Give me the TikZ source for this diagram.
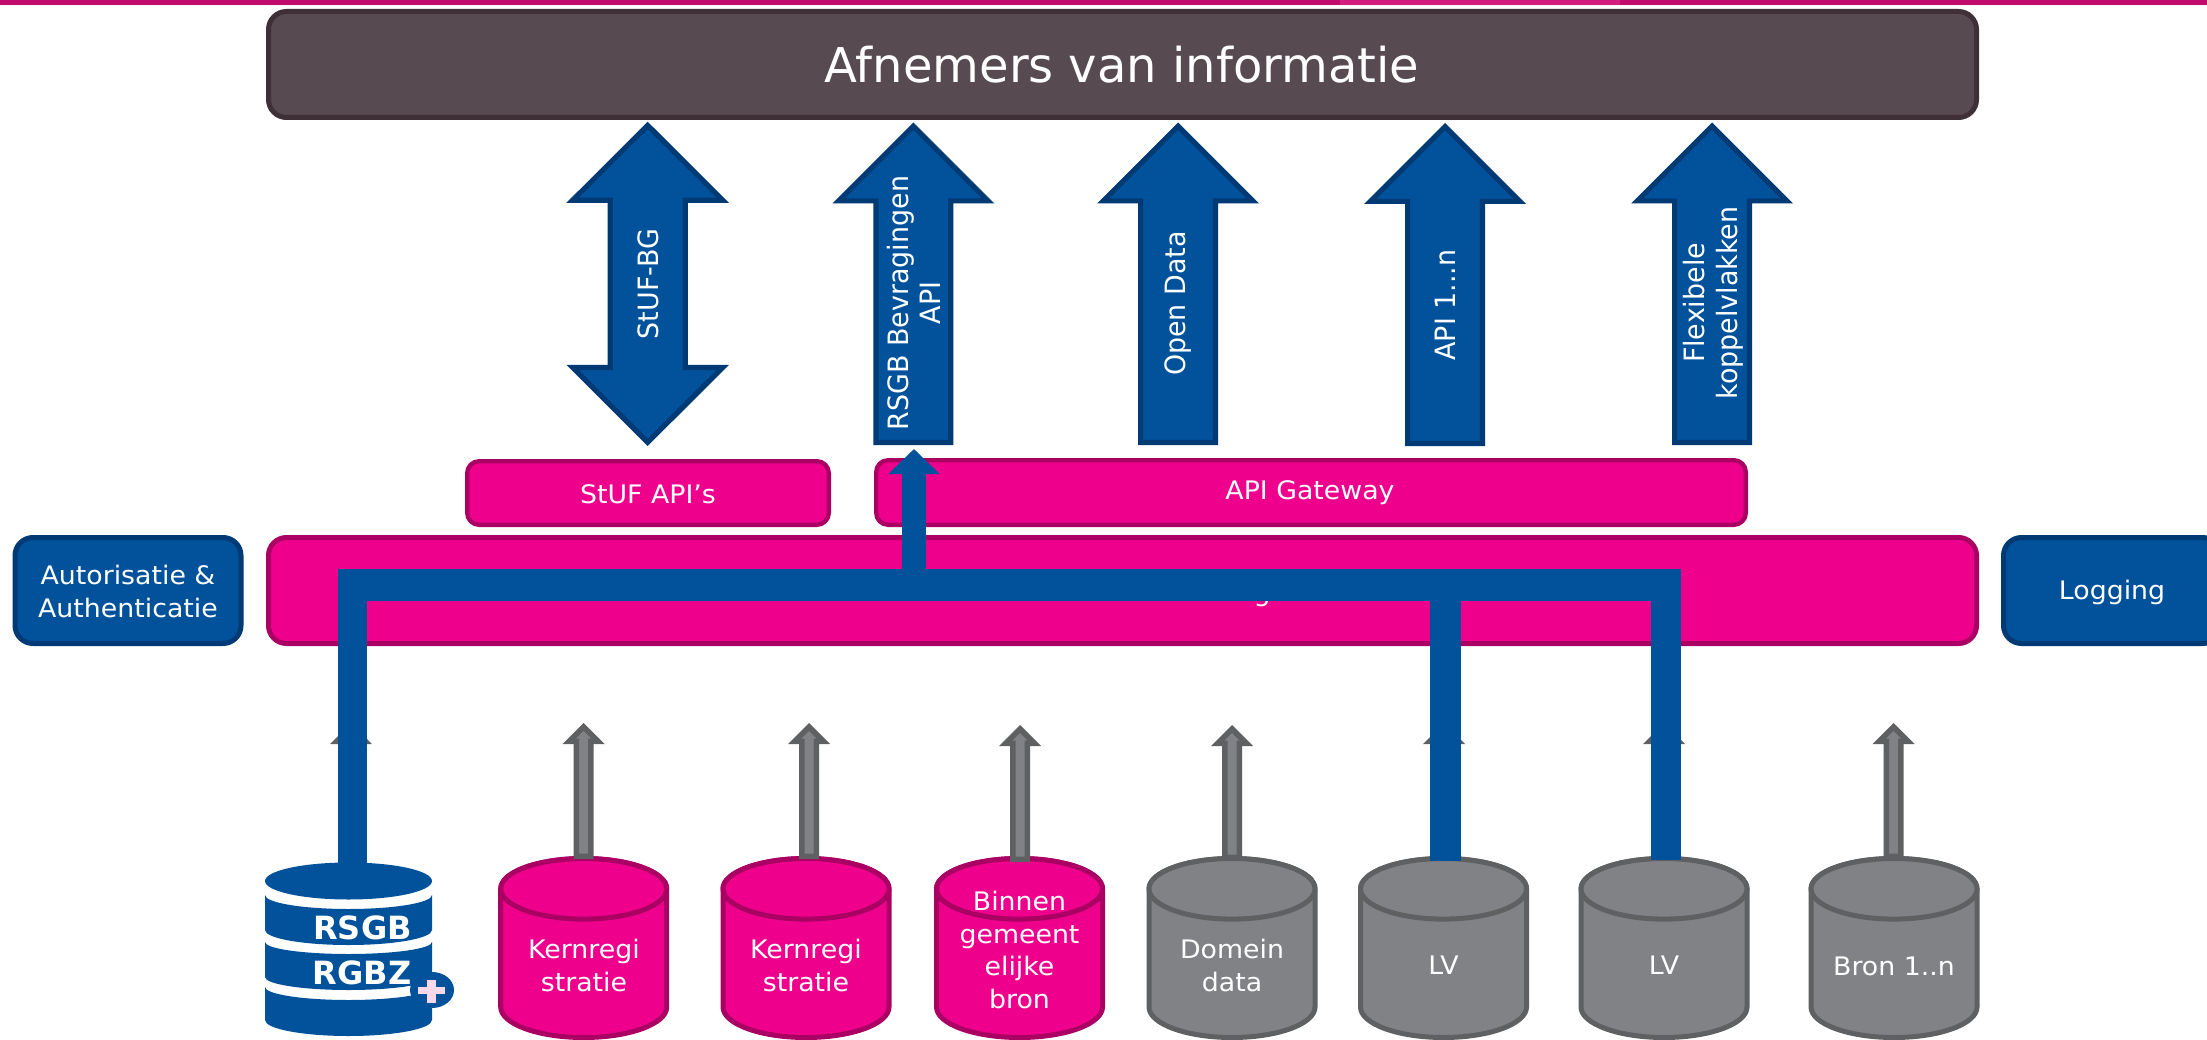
\documentclass[tikz,border=0pt]{standalone}
\usepackage{fontspec}
\setmainfont{DejaVu Sans}
\newfontfamily\hfam[FakeStretch=1.05]{DejaVu Sans}
\newfontfamily\rfam[FakeStretch=0.96]{DejaVu Sans}
\usetikzlibrary{calc,arrows.meta}
\definecolor{bluefill}{HTML}{01519B}
\definecolor{blueedge}{HTML}{003A74}
\definecolor{pinkfill}{HTML}{EE008D}
\definecolor{pinkedge}{HTML}{AB0063}
\definecolor{darkfill}{HTML}{574A50}
\definecolor{darkedge}{HTML}{3E3036}
\definecolor{grayfill}{HTML}{808285}
\definecolor{grayedge}{HTML}{5F6062}
\definecolor{stripa}{HTML}{BF0A6E}
\definecolor{stripb}{HTML}{D41C80}
\definecolor{plusc}{HTML}{F8D8E8}
\tikzset{
  x=1pt,y=-1pt,
  txt/.style={text=white,inner sep=0pt,align=center,font=\hfam\fontsize{25.5}{32.5}\selectfont},
  rtxt/.style={text=white,inner sep=0pt,align=center,rotate=90,font=\rfam\fontsize{28}{32.5}\selectfont},
  rbox/.style={rounded corners=#1,inner sep=0pt,outer sep=0pt,line join=round},
  dark/.style={draw=darkedge,fill=darkfill,line width=5pt},
  pinkb/.style={draw=pinkedge,fill=pinkfill,line width=5pt},
  pinks/.style={draw=pinkedge,fill=pinkfill,line width=4.4pt},
  blueb/.style={draw=blueedge,fill=bluefill,line width=5pt},
  blockb/.style={draw=blueedge,fill=bluefill,line width=5.2pt,miter limit=10},
  blockg/.style={draw=grayedge,fill=grayfill,line width=5.5pt,miter limit=10},
  cylp/.style={draw=pinkedge,fill=pinkfill,line width=5pt,line join=round},
  cylg/.style={draw=grayedge,fill=grayfill,line width=5pt,line join=round},
  busline/.style={draw=bluefill,line width=#1pt,line cap=butt},
}
% #1 style, #2 bottom coordinate, #3 tip coordinate, #4 outer half head, #5 outer half shaft, #6 half stroke
\newcommand\upblock[6]{%
  \draw[#1] let \p1=(#2),\p2=(#3) in
    ({\x2},{\y2-1.414*#6pt})
    -- ({\x2+(#4-2.414*#6)*1pt},{\y2-(#4-#6)*1pt})
    -- ({\x2+(#5-#6)*1pt},{\y2-(#4-#6)*1pt})
    -- ({\x2+(#5-#6)*1pt},{\y1+#6pt})
    -- ({\x2-(#5-#6)*1pt},{\y1+#6pt})
    -- ({\x2-(#5-#6)*1pt},{\y2-(#4-#6)*1pt})
    -- ({\x2-(#4-2.414*#6)*1pt},{\y2-(#4-#6)*1pt})
    -- cycle;}
% #1 top tip, #2 bottom tip
\newcommand\dblblock[2]{%
  \draw[blockb] let \p1=(#1),\p2=(#2) in
    ({\x1},{\y1-3.7pt})
    -- ({\x1+75pt},{\y1-78.5pt})
    -- ({\x1+37.5pt},{\y1-78.5pt})
    -- ({\x1+37.5pt},{\y2+78.5pt})
    -- ({\x1+75pt},{\y2+78.5pt})
    -- ({\x1},{\y2+3.7pt})
    -- ({\x1-75pt},{\y2+78.5pt})
    -- ({\x1-37.5pt},{\y2+78.5pt})
    -- ({\x1-37.5pt},{\y1-78.5pt})
    -- ({\x1-75pt},{\y1-78.5pt})
    -- cycle;}
% #1 name, #2 centre x, #3 style
\newcommand\cyl[3]{%
  \coordinate (#1) at (#2,856);
  \draw[#3] ({#2-83},888.8) -- ({#2-83},1007)
    arc[start angle=180,end angle=360,x radius=83pt,y radius=30.5pt]
    -- ({#2+83},888.8)
    arc[start angle=0,end angle=180,x radius=83pt,y radius=30.3pt] -- cycle;
  \draw[#3] (#2,888.8) circle[x radius=83pt,y radius=30.3pt];}
\begin{document}
\begin{tikzpicture}
\path[use as bounding box,clip] (0,0) rectangle (2207,1040);
\fill[white] (0,0) rectangle (2207,1040);
% top strip
\fill[stripa] (0,0) rectangle (2207,5.5);
\fill[stripb] (1340,0) rectangle (1620,5.5);

% boxes
\node[rbox=18pt,dark,minimum width=1708pt,minimum height=106pt] (afnemers) at (1122.5,64.5) {};
\node[text=white,inner sep=0pt,font=\fontsize{48}{56}\selectfont] (afnemerstxt) at (1122,65) {Afnemers van informatie};

\node[rbox=12pt,pinks,minimum width=361.6pt,minimum height=63.6pt] (stuf) at (648,493) {};
\node[txt] (stuftxt) at (648,494) {StUF API’s};
\node[rbox=12pt,pinks,minimum width=869.6pt,minimum height=64.6pt] (gateway) at (1311,492.5) {};
\node[txt] (gatewaytxt) at (1310,493) {API Gateway};

\node[rbox=18pt,pinkb,minimum width=1708pt,minimum height=106pt] (laag) at (1122.5,590.5) {};
\node[text=white,inner sep=0pt,font=\hfam\fontsize{25.5}{32}\selectfont,anchor=base] (laagtxt) at (1262,601) {g};
\node[rbox=18pt,blueb,minimum width=226pt,minimum height=106pt] (auth) at (128,590.5) {};
\node[txt] (authtxt) at (128,591.5) {Autorisatie \&\\Authenticatie};
\node[rbox=18pt,blueb,minimum width=217pt,minimum height=106pt] (log) at (2112,590.5) {};
\node[txt] (logtxt) at (2112,592) {Logging};

% upper block arrows
\coordinate (a1t) at (647.7,121.7); \coordinate (a1b) at (647.7,446);
\coordinate (a2t) at (913.3,122.5); \coordinate (a2b) at (913.3,445);
\coordinate (a3t) at (1178,122.5);  \coordinate (a3b) at (1178,445);
\coordinate (a4t) at (1445,123);    \coordinate (a4b) at (1445,446);
\coordinate (a5t) at (1712,122.5);  \coordinate (a5b) at (1712,445);
\dblblock{a1t}{a1b}
\upblock{blockb}{a2b}{a2t}{81}{40}{2.6}
\upblock{blockb}{a3b}{a3t}{81}{40}{2.6}
\upblock{blockb}{a4b}{a4t}{81}{40}{2.6}
\upblock{blockb}{a5b}{a5t}{81}{40}{2.6}
\node[rtxt] (l1) at (648,284) {StUF-BG};
\node[rtxt] (l2) at (914,303) {RSGB Bevragingen\\API};
\node[rtxt] (l3) at (1178,303.5) {Open Data};
\node[rtxt] (l4) at (1445,305) {API 1...n};
\node[rtxt] (l5) at (1713,303) {Flexibele\\koppelvlakken};

% cylinders
\cyl{c1}{583.7}{cylp}
\cyl{c2}{806}{cylp}
\cyl{c3}{1019.5}{cylp}
\cyl{c4}{1232}{cylg}
\cyl{c5}{1443.5}{cylg}
\cyl{c6}{1664}{cylg}
\cyl{c7}{1894}{cylg}
\node[txt] (t1) at (584,965.5) {Kernregi\\stratie};
\node[txt] (t2) at (806,965.5) {Kernregi\\stratie};
\node[txt] (t3) at (1019.5,950) {Binnen\\gemeent\\elijke\\bron};
\node[txt] (t4) at (1232,965.5) {Domein\\data};
\node[txt] (t5) at (1443.5,965) {LV};
\node[txt] (t6) at (1664,965) {LV};
\node[txt] (t7) at (1894,966) {Bron 1..n};

% RSGB icon
\fill[bluefill] (348.5,881) circle[x radius=83.5pt,y radius=18.5pt];
\fill[bluefill] (265,895) arc[start angle=180,end angle=360,x radius=83.5pt,y radius=14pt]
   -- (432,930) arc[start angle=0,end angle=-180,x radius=83.5pt,y radius=15pt] -- cycle;
\fill[bluefill] (265,942) arc[start angle=180,end angle=360,x radius=83.5pt,y radius=12pt]
   -- (432,977) arc[start angle=0,end angle=-180,x radius=83.5pt,y radius=13pt] -- cycle;
\fill[bluefill] (265,987) arc[start angle=180,end angle=360,x radius=83.5pt,y radius=13pt]
   -- (432,1020) arc[start angle=0,end angle=-180,x radius=83.5pt,y radius=16pt] -- cycle;
\fill[bluefill] (432,990) circle[x radius=22pt,y radius=18pt];
\fill[plusc] (418,986.5) rectangle (445,994);
\fill[plusc] (427,980) rectangle (436,1003);
\node[text=white,inner sep=0pt,font=\fontsize{32}{36}\selectfont\bfseries] (rsgb) at (362.5,928) {RSGB};
\node[text=white,inner sep=0pt,font=\fontsize{32}{36}\selectfont\bfseries] (rgbz) at (362,972.5) {RGBZ};

% grey arrows
\coordinate (g0b) at (351,863); \coordinate (g0t) at (351,723);
\coordinate (g1b) at (583.7,859); \coordinate (g1t) at (583.7,723);
\coordinate (g2b) at (809,859); \coordinate (g2t) at (809,723);
\coordinate (g3b) at (1020,862); \coordinate (g3t) at (1020,725);
\coordinate (g4b) at (1232,860); \coordinate (g4t) at (1232,725);
\coordinate (g5b) at (1444,860); \coordinate (g5t) at (1444,723);
\coordinate (g6b) at (1664,860); \coordinate (g6t) at (1664,723);
\coordinate (g7b) at (1893.5,859); \coordinate (g7t) at (1893.5,723);
\upblock{blockg}{g0b}{g0t}{21}{10}{2.75}
\upblock{blockg}{g1b}{g1t}{21}{10}{2.75}
\upblock{blockg}{g2b}{g2t}{21}{10}{2.75}
\upblock{blockg}{g3b}{g3t}{21}{10}{2.75}
\upblock{blockg}{g4b}{g4t}{21}{10}{2.75}
\upblock{blockg}{g5b}{g5t}{21}{10}{2.75}
\upblock{blockg}{g6b}{g6t}{21}{10}{2.75}
\upblock{blockg}{g7b}{g7t}{21}{10}{2.75}

% blue routes
\coordinate (busL) at (338,585);
\coordinate (busR) at (1681,585);
\coordinate (srcA) at (352.5,866);  \coordinate (jA) at (352.5,569);
\coordinate (srcB) at (1445.5,861); \coordinate (jB) at (1445.5,590);
\coordinate (srcC) at (1666,860);   \coordinate (jC) at (1666,569);
\coordinate (stemB) at (914,575);   \coordinate (stemT) at (914,449);
\draw[busline=29] (srcA) -- (jA);
\draw[busline=31] (srcB) -- (jB);
\draw[busline=30] (srcC) -- (jC);
\draw[busline=32] (busL) -- (busR);
\draw[bluefill,line width=24pt,-{Triangle[length=25pt,width=50pt]}] (stemB) -- (stemT);
\end{tikzpicture}
\end{document}
